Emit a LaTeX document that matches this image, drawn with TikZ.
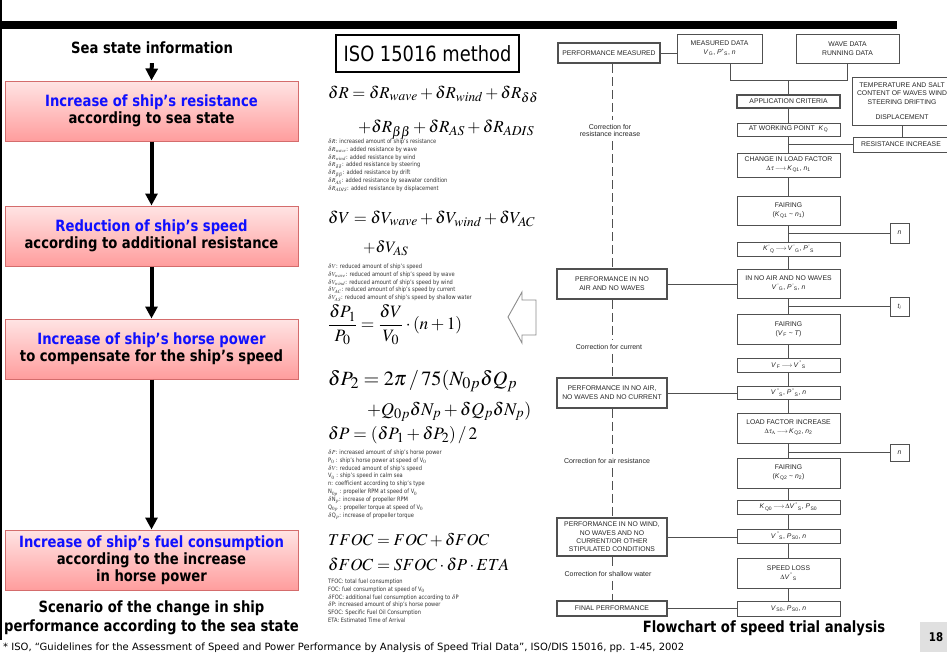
\documentclass[tikz,border=0pt]{standalone}
\usepackage{graphicx}
\usepackage{mathptmx}
\usepackage[no-math]{fontspec}
\setmainfont{Liberation Serif}
\newfontfamily\tah{DejaVu Sans}[FakeStretch=0.85]
\newfontfamily\dej{DejaVu Sans}
\newfontfamily\ari{Liberation Sans}
\usetikzlibrary{arrows.meta}

% equations use comparatively large sub- and superscripts
\DeclareMathSizes{18}{18}{14.4}{11}

\definecolor{pinktop}{HTML}{FFE4E4}
\definecolor{pinkbot}{HTML}{FF9D9D}
\definecolor{pinkline}{HTML}{D46C6C}
\definecolor{txtblue}{HTML}{1010FF}
\definecolor{flowline}{HTML}{505050}

% italic symbol with super- and subscript, as used in the flowchart boxes
\newcommand\vs[3]{\textit{#1}\textsuperscript{#2}\textsubscript{#3}}
\newcommand\farrow{\,$\longrightarrow$\,}
% an equation set at 18pt and scaled to a given width
\newcommand\eqw[2]{\resizebox{#1}{!}{\fontsize{18}{22}\selectfont$#2$}}

\begin{document}
\begin{tikzpicture}[x=1pt,y=-1pt,
  pinkbox/.style={rectangle, draw=pinkline, line width=1pt, top color=pinktop,
    bottom color=pinkbot, minimum width=293pt, minimum height=60pt, inner sep=0pt,
    align=center, font=\tah\bfseries\fontsize{15.5}{17}\selectfont},
  bigarrow/.style={line width=4pt, -{Triangle[length=12pt,width=12pt]}},
  boldtext/.style={align=center, inner sep=0pt, font=\tah\bfseries\fontsize{15.5}{19}\selectfont},
  eqn/.style={anchor=base west, inner sep=0pt},
  legend/.style={anchor=north west, inner sep=0pt, align=left, text=black!80,
    font=\tah\fontsize{6}{7.9}\selectfont},
  fb/.style={draw=flowline, line width=0.7pt, fill=white, inner sep=1pt,
    minimum width=103pt, align=center, text=black!85,
    font=\ari\fontsize{6.8}{9}\selectfont},
  fbt/.style={fb, line width=1.6pt},
  nbox/.style={fb, minimum width=19pt},
  flow/.style={draw=flowline, line width=0.7pt},
  corrline/.style={draw=flowline, line width=0.7pt, dash pattern=on 9pt off 4pt},
  corr/.style={inner xsep=0pt, inner ysep=4pt, align=center, text=black!85,
    font=\ari\fontsize{7}{7.5}\selectfont},
]
\clip (0,0) rectangle (947,657);
\fill[white] (0,0) rectangle (947,657);

% header rule and left edge
\fill[black] (0,21) rectangle (897,29);
\fill[black] (0,0) rectangle (2,640);

% ---------------- left column: scenario ----------------
\node[boldtext] (sea) at (152,48) {Sea state information};
\node[pinkbox] (b1) at (151.5,111) {{\color{txtblue}Increase of ship’s resistance}\\according to sea state};
\node[pinkbox] (b2) at (151.5,236) {{\color{txtblue}Reduction of ship’s speed}\\according to additional resistance};
\node[pinkbox] (b3) at (151.5,349) {{\color{txtblue}Increase of ship’s horse power}\\to compensate for the ship’s speed};
\node[pinkbox] (b4) at (151.5,560) {{\color{txtblue}Increase of ship’s fuel consumption}\\according to the increase\\in horse power};
\node[boldtext] (cap1) at (151.5,618) {Scenario of the change in ship\\performance according to the sea state};

\draw[bigarrow, shorten <=9pt] (sea.south) -- (b1.north);
\draw[bigarrow] (b1.south) -- (b2.north);
\draw[bigarrow] (b2.south) -- (b3.north);
\draw[bigarrow] (b3.south) -- (b4.north);

% ---------------- middle column: ISO 15016 method ----------------
\node[draw=black, line width=1.2pt, minimum width=183pt, minimum height=37pt, inner sep=0pt,
      font=\tah\fontsize{21}{24}\selectfont] (iso) at (427.5,53.5) {ISO 15016 method};

\node[eqn] (eqR1) at (328,98)
  {\eqw{210pt}{\delta R = \delta R_{wave} + \delta R_{wind} + \delta R_{\delta\delta}}};
\node[eqn] (eqR2) at (358,132)
  {\eqw{176pt}{+\delta R_{\beta\beta} + \delta R_{AS} + \delta R_{ADIS}}};
\node[legend] (legR) at (328,138.5) {%
  $\delta R$: increased amount of ship’s resistance\\
  $\delta R_{wave}$: added resistance by wave\\
  $\delta R_{wind}$: added resistance by wind\\
  $\delta R_{\delta\delta}$: added resistance by steering\\
  $\delta R_{\beta\beta}$: added resistance by drift\\
  $\delta R_{AS}$: added resistance by seawater condition\\
  $\delta R_{ADIS}$: added resistance by displacement};

\node[eqn] (eqV1) at (328,223)
  {\eqw{207pt}{\delta V = \delta V_{wave} + \delta V_{wind} + \delta V_{AC}}};
\node[eqn] (eqV2) at (363,252)
  {\eqw{45pt}{+\delta V_{AS}}};
\node[legend] (legV) at (328,263.5) {%
  $\delta V$: reduced amount of ship’s speed\\
  $\delta V_{wave}$: reduced amount of ship’s speed by wave\\
  $\delta V_{wind}$: reduced amount of ship’s speed by wind\\
  $\delta V_{AC}$: reduced amount of ship’s speed by current\\
  $\delta V_{AS}$: reduced amount of ship’s speed by shallow water};

% hollow arrow pointing back to the scenario column
\draw[draw=black!45, line width=0.9pt, fill=white]
  (508,317) -- (522,292) -- (522,300) -- (536,300) -- (536,335) -- (522,335) -- (522,343) -- cycle;

\node[anchor=west, inner sep=0pt] (eqP1) at (328,325)
  {\eqw{134pt}{\displaystyle\frac{\delta P_1}{P_0} = \frac{\delta V}{V_0}\cdot(n+1)}};
\node[eqn] (eqP2a) at (328,385)
  {\eqw{189pt}{\delta P_2 = 2\pi\,/\,75(N_{0p}\delta Q_p}};
\node[eqn] (eqP2b) at (367,415)
  {\eqw{164pt}{+Q_{0p}\delta N_p + \delta Q_p\delta N_p)}};
\node[eqn] (eqP3) at (328,439)
  {\eqw{149pt}{\delta P = (\delta P_1 + \delta P_2)\,/\,2}};
\node[legend] (legP) at (328,449.5) {%
  $\delta P$: increased amount of ship’s horse power\\
  P$_0$ : ship’s horse power at speed of V$_0$\\
  $\delta V$: reduced amount of ship’s speed\\
  V$_0$ : ship’s speed in calm sea\\
  n: coefficient according to ship’s type\\
  N$_{0p}$ : propeller RPM at speed of V$_0$\\
  $\delta$N$_p$: increase of propeller RPM\\
  Q$_{0p}$ : propeller torque at speed of V$_0$\\
  $\delta$Q$_p$: increase of propeller torque};

\node[eqn] (eqF1) at (328,545)
  {\eqw{161pt}{TFOC = FOC + \delta FOC}};
\node[eqn] (eqF2) at (328,570)
  {\eqw{181pt}{\delta FOC = SFOC\cdot\delta P\cdot ETA}};
\node[legend] (legF) at (328,578.5) {%
  TFOC: total fuel consumption\\
  FOC: fuel consumption at speed of V$_0$\\
  $\delta$FOC: additional fuel consumption according to $\delta$P\\
  $\delta$P: increased amount of ship’s horse power\\
  SFOC: Specific Fuel Oil Consumption\\
  ETA: Estimated Time of Arrival};

% ---------------- right column: flowchart of speed trial analysis ----------------
\node[fbt, minimum width=102pt, minimum height=20pt] (PM) at (609,53) {PERFORMANCE MEASURED};
\node[fb, minimum width=85pt, minimum height=29pt] (MD) at (719.5,48.5) {MEASURED DATA\\\vs{V}{}{G}, \vs{P}{*}{S}, \textit{n}};
\node[fb, minimum height=29pt] (WD) at (847.5,48.5) {WAVE DATA\\RUNNING DATA};
\node[fb, minimum width=100pt, minimum height=48pt, font=\ari\fontsize{6.8}{8.5}\selectfont] (TEMP) at (902,101)
  {TEMPERATURE AND SALT\\CONTENT OF WAVES WIND\\STEERING DRIFTING\\[6.5pt]DISPLACEMENT};
\node[fb, minimum width=96pt, minimum height=15pt] (RI) at (901,144.5) {RESISTANCE INCREASE};

\node[fbt, minimum height=13pt] (AC) at (788.5,101.5) {APPLICATION CRITERIA};
\node[fb, minimum height=13pt] (AWP) at (788.5,129.5) {AT WORKING POINT\; \vs{K}{}{Q}};
\node[fb, minimum height=24pt] (CLF) at (788.5,165) {CHANGE IN LOAD FACTOR\\$\Delta\tau$\farrow\vs{K}{}{Q1}, \textit{n}\textsubscript{1}};
\node[fb, minimum height=29pt] (F1) at (788.5,210.5) {FAIRING\\(\vs{K}{}{Q1} \textasciitilde\ \textit{n}\textsubscript{1})};
\node[nbox, minimum height=20pt] (n1) at (899.5,233) {\textit{n}};
\node[fb, minimum height=14pt] (KQ) at (788.5,249) {\vs{K}{\,'}{Q}\farrow\vs{V}{\,'}{G}, \vs{P}{\,'}{S}};
\node[fb, minimum height=29pt] (INAW) at (788.5,283.5) {IN NO AIR AND NO WAVES\\\vs{V}{\,'}{G}, \vs{P}{\,'}{S}, \textit{n}};
\node[nbox, minimum height=19pt] (ti) at (899.5,306.5) {\textit{t}\textsubscript{\textit{i}}};
\node[fb, minimum height=30pt] (F2) at (788.5,329) {FAIRING\\(\vs{V}{}{F} \textasciitilde\ \textit{T})};
\node[fb, minimum height=14pt] (VF) at (788.5,365) {\vs{V}{}{F}\farrow\vs{V}{\,''}{S}};
\node[fb, minimum height=13pt] (VS2) at (788.5,392.5) {\vs{V}{\,''}{S}, \vs{P}{\,''}{S}, \textit{n}};
\node[fb, minimum height=30pt] (LFI) at (788.5,428) {LOAD FACTOR INCREASE\\$\Delta\tau_{\mathrm A}$\farrow\vs{K}{}{Q2}, \textit{n}\textsubscript{2}};
\node[nbox, minimum height=17pt] (n2) at (899.5,452.5) {\textit{n}};
\node[fb, minimum height=30pt] (F3) at (788.5,473) {FAIRING\\(\vs{K}{}{Q2} \textasciitilde\ \textit{n}\textsubscript{2})};
\node[fb, minimum height=14pt] (KQ0) at (788.5,507) {\vs{K}{}{Q0}\farrow$\Delta$\vs{V}{\,''}{S}, \vs{P}{}{S0}};
\node[fb, minimum height=14pt] (VS0) at (788.5,536) {\vs{V}{\,''}{S}, \vs{P}{}{S0}, \textit{n}};
\node[fb, minimum height=30pt] (SL) at (788.5,573) {SPEED LOSS\\$\Delta$\vs{V}{\,''}{S}};
\node[fb, minimum height=15pt] (V50) at (788.5,608.5) {\vs{V}{}{S0}, \vs{P}{}{S0}, \textit{n}};

\node[fbt, minimum width=110pt, minimum height=30pt] (PNAW) at (612,284) {PERFORMANCE IN NO\\AIR AND NO WAVES};
\node[fbt, minimum width=110pt, minimum height=30pt] (PNC) at (612,393) {PERFORMANCE IN NO AIR,\\NO WAVES AND NO CURRENT};
\node[fbt, minimum width=110pt, minimum height=38pt, font=\ari\fontsize{6.8}{8.4}\selectfont] (PNW) at (612,537)
  {PERFORMANCE IN NO WIND,\\NO WAVES AND NO\\CURRENT/OR OTHER\\STIPULATED CONDITIONS};
\node[fbt, line width=1.2pt, minimum width=110pt, minimum height=15pt] (FP) at (612,608.5) {FINAL PERFORMANCE};

\node[corr] (c1) at (610,130.5) {Correction for\\resistance increase};
\node[corr] (c2) at (609,347) {Correction for current};
\node[corr] (c3) at (607,461) {Correction for air resistance};
\node[corr] (c4) at (608,574) {Correction for shallow water};

% data inputs
\coordinate (jmd) at (730,80);
\coordinate (jwd) at (847.5,80);
\draw[flow] (PM.east) -- (PM.east -| MD.west);
\draw[flow] (MD.south -| jmd) -- (jmd) -- (jwd) -- (WD.south -| jwd);
\draw[flow] (AC.north |- jmd) -- (AC.north);
\draw[flow] (TEMP.south) -- (TEMP.south |- RI.north);

% main chain
\draw[flow] (AC.south) -- (AWP.north);
\draw[flow] (AWP.south) -- (CLF.north);
\draw[flow] (CLF.south) -- (F1.north);
\draw[flow] (F1.south) -- (KQ.north);
\draw[flow] (KQ.south) -- (INAW.north);
\draw[flow] (INAW.south) -- (F2.north);
\draw[flow] (F2.south) -- (VF.north);
\draw[flow] (VF.south) -- (VS2.north);
\draw[flow] (VS2.south) -- (LFI.north);
\draw[flow] (LFI.south) -- (F3.north);
\draw[flow] (F3.south) -- (KQ0.north);
\draw[flow] (KQ0.south) -- (VS0.north);
\draw[flow] (VS0.south) -- (SL.north);
\draw[flow] (SL.south) -- (V50.north);

% side branches
\draw[flow] (RI.west) -- (RI.west -| AWP.south);
\draw[flow] (n1.west) -- (n1.west -| F1.south);
\draw[flow] (ti.west) -- (ti.west -| INAW.south);
\draw[flow] (n2.west) -- (n2.west -| LFI.south);

% results of each correction step
\draw[flow] (PNAW.east) -- (PNAW.east -| INAW.west);
\draw[flow] (PNC.east) -- (PNC.east -| VS2.west);
\draw[flow] (PNW.east) -- (PNW.east -| VS0.west);
\draw[flow] (FP.east) -- (FP.east -| V50.west);

% correction path
\draw[corrline] (PM.south -| PNAW.north) -- (c1.north -| PNAW.north);
\draw[corrline] (c1.south -| PNAW.north) -- (PNAW.north);
\draw[corrline] (PNAW.south) -- (c2.north -| PNAW.south);
\draw[corrline] (c2.south -| PNC.north) -- (PNC.north);
\draw[corrline] (PNC.south) -- (c3.north -| PNC.south);
\draw[corrline] (c3.south -| PNW.north) -- (PNW.north);
\draw[corrline] (PNW.south) -- (c4.north -| PNW.south);
\draw[corrline] (c4.south -| FP.north) -- (FP.north);

\node[boldtext] (cap2) at (764,628) {Flowchart of speed trial analysis};

% footnote and page number
\node[anchor=west, inner sep=0pt, font=\dej\fontsize{10}{12}\selectfont] (foot) at (3,647.5)
  {* ISO, “Guidelines for the Assessment of Speed and Power Performance by Analysis of Speed Trial Data”, ISO/DIS 15016, pp. 1-45, 2002};
\fill[black!12] (920,622) rectangle (947,652);
\node[inner sep=0pt, font=\tah\bfseries\fontsize{12}{14}\selectfont] (page) at (936,637) {18};
\end{tikzpicture}
\end{document}
